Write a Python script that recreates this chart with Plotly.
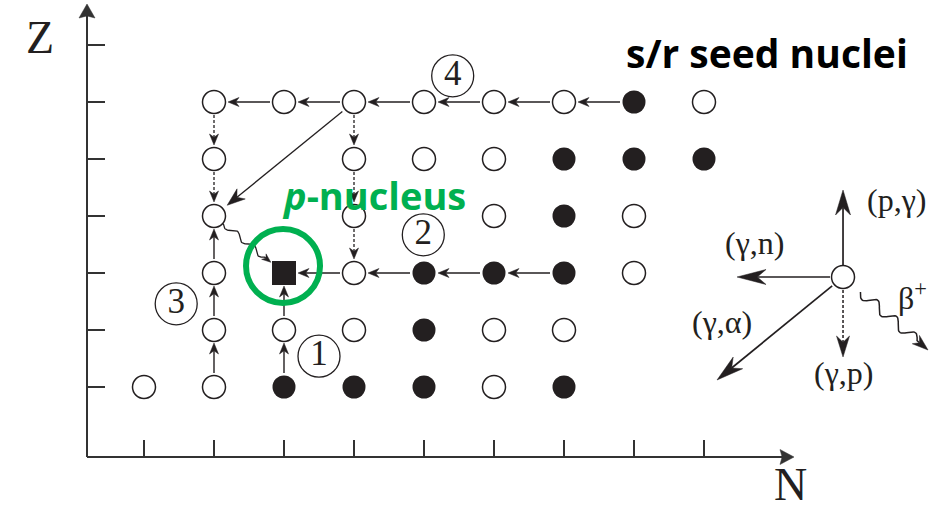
import numpy as np
import plotly.graph_objects as go

# ---------------- data (grid units: N = neutron number index, Z = proton number index)
N_TICKS = [1, 2, 3, 4, 5, 6, 7, 8, 9]
Z_TICKS = [1, 2, 3, 4, 5, 6, 7]

STABLE_N = [8, 7, 8, 9, 7, 5, 6, 7, 5, 3, 4, 5, 7]
STABLE_Z = [6, 5, 5, 5, 4, 3, 3, 3, 2, 1, 1, 1, 1]

UNSTABLE_N = [2, 3, 4, 5, 6, 7, 9, 2, 4, 5, 6, 2, 4, 6, 8, 2, 4, 8, 2, 3, 4, 6, 7, 1, 2, 6]
UNSTABLE_Z = [6, 6, 6, 6, 6, 6, 6, 5, 5, 5, 5, 4, 4, 4, 4, 3, 3, 3, 2, 2, 2, 2, 2, 1, 1, 1]

P_NUCLEUS_N = [3]
P_NUCLEUS_Z = [3]

# reaction start nuclei (the arrow goes to start + reaction shift)
GAMMA_N_START_N = [8, 7, 6, 5, 4, 3, 7, 6, 5, 4]
GAMMA_N_START_Z = [6, 6, 6, 6, 6, 6, 3, 3, 3, 3]
P_GAMMA_START_N = [2, 2, 2, 3, 3]
P_GAMMA_START_Z = [1, 2, 3, 1, 2]
GAMMA_P_START_N = [2, 2, 4, 4, 4]
GAMMA_P_START_Z = [6, 5, 6, 5, 4]
GAMMA_ALPHA_START_N = [4]
GAMMA_ALPHA_START_Z = [6]
BETA_START_N = [2]
BETA_START_Z = [4]

SHIFT = {"gn": (-1, 0), "pg": (0, 1), "gp": (0, -1), "ga": (-2, -2), "beta": (1, -1)}

PATH_LABELS = ["1", "2", "3", "4"]
PATH_N = [3.50, 4.99, 1.46, 5.41]
PATH_Z = [1.54, 3.67, 2.46, 6.46]

LEGEND_N, LEGEND_Z = 10.986, 2.93
LEGEND_TEXT = ["(p,γ)", "(γ,n)", "(γ,α)", "(γ,p)", "β<sup>+</sup>"]
LEGEND_TEXT_DN = [0.77, -1.27, -1.73, 0.0, 0.99]
LEGEND_TEXT_DZ = [1.35, 0.60, -0.79, -1.68, -0.33]

# ---------------- figure geometry
W, H = 949, 512
X0, X1 = 1 - 144 / 70, 1 - 144 / 70 + W / 70
Y1 = 1 + 387 / 57
Y0 = Y1 - H / 57
SX, SY = W / (X1 - X0), H / (Y1 - Y0)

INK = "#231f20"
AXC = "#333333"
GREEN = "#00b050"


def to_px(n, z):
    return np.array([(n - X0) * SX, (Y1 - z) * SY])


def to_data(p):
    return X0 + p[0] / SX, Y1 - p[1] / SY


fig = go.Figure()


def add_line(pts_px, width, color, dash="solid"):
    xs, ys = zip(*[to_data(p) for p in pts_px])
    fig.add_trace(go.Scatter(x=xs, y=ys, mode="lines", line=dict(color=color, width=width, dash=dash),
                             hoverinfo="skip", showlegend=False))


def add_head(tip, u, L, Wd, color, notch=0.7):
    nrm = np.array([-u[1], u[0]])
    pts = [tip, tip - u * L + nrm * Wd / 2, tip - u * L * notch, tip - u * L - nrm * Wd / 2, tip]
    xs, ys = zip(*[to_data(p) for p in pts])
    fig.add_trace(go.Scatter(x=xs, y=ys, mode="lines", fill="toself", fillcolor=color,
                             line=dict(color=color, width=0.5), hoverinfo="skip", showlegend=False))


def arrow(p0, p1, off0, off1, L, Wd, width=1.3, color=INK, dash="solid", notch=0.7):
    d = p1 - p0
    u = d / np.linalg.norm(d)
    s = p0 + u * off0
    t = p1 - u * off1
    add_line([s, t - u * L * notch], width, color, dash)
    add_head(t, u, L, Wd, color, notch)


def wiggle(p0, p1, off0, off1, periods, amp, L, Wd, width=1.3, color=INK):
    d = p1 - p0
    u = d / np.linalg.norm(d)
    nrm = np.array([-u[1], u[0]])
    s = p0 + u * off0
    t = p1 - u * off1
    length = np.linalg.norm(t - s)
    wl = length - L * 0.9
    k = np.linspace(0, 1, 80)
    pts = [s + u * wl * kk + nrm * amp * np.sin(2 * np.pi * periods * kk) for kk in k]
    pts.append(t - u * L * 0.7)
    add_line(pts, width, color)
    add_head(t, u, L, Wd, color)


# ---------------- axes (drawn through the data scale)
org = to_px(X0 + 87 / SX, Y1 - 457 / SY)
xtip = to_px(X0 + 794 / SX, Y1 - 457 / SY)
ytip = to_px(X0 + 87 / SX, Y1 - 4 / SY)
arrow(org, xtip, 0, 0, 14, 15, width=2, color=AXC, notch=0.85)
arrow(org, ytip, 0, 0, 14, 16, width=2, color=AXC, notch=0.85)
for n in N_TICKS:
    p = to_px(n, 0)
    add_line([np.array([p[0], org[1]]), np.array([p[0], org[1] - 17])], 2, AXC)
for z in Z_TICKS:
    p = to_px(0, z)
    add_line([np.array([org[0], p[1]]), np.array([org[0] + 18, p[1]])], 2, AXC)

# ---------------- reaction arrows in the chart
for n, z in zip(GAMMA_N_START_N, GAMMA_N_START_Z):
    dn, dz = SHIFT["gn"]
    arrow(to_px(n, z), to_px(n + dn, z + dz), 14, 14, 11, 9, width=1.4)
for n, z in zip(P_GAMMA_START_N, P_GAMMA_START_Z):
    dn, dz = SHIFT["pg"]
    arrow(to_px(n, z), to_px(n + dn, z + dz), 14, 13, 11, 9, width=1.4)
for n, z in zip(GAMMA_P_START_N, GAMMA_P_START_Z):
    dn, dz = SHIFT["gp"]
    arrow(to_px(n, z), to_px(n + dn, z + dz), 13, 14, 11, 9, dash="3px,2px")
for n, z in zip(GAMMA_ALPHA_START_N, GAMMA_ALPHA_START_Z):
    dn, dz = SHIFT["ga"]
    arrow(to_px(n, z), to_px(n + dn, z + dz), 15, 17, 18, 13)
for n, z in zip(BETA_START_N, BETA_START_Z):
    dn, dz = SHIFT["beta"]
    wiggle(to_px(n, z), to_px(n + dn, z + dz), 12, 17, 2.5, 3, 9, 7)

# ---------------- legend star
c = to_px(LEGEND_N, LEGEND_Z)
arrow(c, to_px(LEGEND_N, LEGEND_Z + 1.526), 12, 0, 25, 15, width=1.7)
arrow(c, to_px(LEGEND_N - 1.514, LEGEND_Z), 13, 0, 29, 15, width=1.7)
arrow(c, to_px(LEGEND_N - 1.8, LEGEND_Z - 1.807), 14, 0, 27, 15, width=1.7)
arrow(c, to_px(LEGEND_N, LEGEND_Z - 1.404), 13, 0, 21, 13, width=1.5, dash="3px,2px")
wiggle(c, to_px(LEGEND_N + 1.214, LEGEND_Z - 1.281), 23, 0, 3, 5, 16, 11, width=1.5)

# ---------------- nuclei
fig.add_trace(go.Scatter(x=UNSTABLE_N + [LEGEND_N], y=UNSTABLE_Z + [LEGEND_Z], mode="markers",
                         marker=dict(symbol="circle", size=23, color="white", line=dict(color=INK, width=1.5)),
                         hoverinfo="skip", showlegend=False))
fig.add_trace(go.Scatter(x=STABLE_N, y=STABLE_Z, mode="markers",
                         marker=dict(symbol="circle", size=23, color=INK, line=dict(width=0)),
                         hoverinfo="skip", showlegend=False))
fig.add_trace(go.Scatter(x=P_NUCLEUS_N, y=P_NUCLEUS_Z, mode="markers",
                         marker=dict(symbol="square", size=24, color=INK, line=dict(width=0)),
                         hoverinfo="skip", showlegend=False))

# circled path numbers
fig.add_trace(go.Scatter(x=PATH_N, y=PATH_Z, mode="markers+text", text=PATH_LABELS,
                         textposition="middle center",
                         textfont=dict(family="Liberation Serif", size=35, color=INK),
                         marker=dict(symbol="circle-open", size=42, color=INK, line=dict(color=INK, width=1.3)),
                         hoverinfo="skip", showlegend=False))

# green ring around the p-nucleus
fig.add_trace(go.Scatter(x=[P_NUCLEUS_N[0] - 0.014], y=[P_NUCLEUS_Z[0] + 0.123], mode="markers",
                         marker=dict(symbol="circle-open", size=74, color=GREEN, line=dict(color=GREEN, width=6)),
                         hoverinfo="skip", showlegend=False))

# ---------------- text
ann = []
for t, dn, dz in zip(LEGEND_TEXT, LEGEND_TEXT_DN, LEGEND_TEXT_DZ):
    ann.append(dict(x=LEGEND_N + dn, y=LEGEND_Z + dz, text=t, showarrow=False,
                    font=dict(family="Liberation Serif", size=32, color=INK),
                    xanchor="center", yanchor="middle"))
ann.append(dict(x=X0 + 40 / SX, y=Y1 - 37 / SY, text="Z", showarrow=False,
                font=dict(family="Liberation Serif", size=46, color=INK), xanchor="center", yanchor="middle"))
ann.append(dict(x=X0 + 790 / SX, y=Y1 - 484 / SY, text="N", showarrow=False,
                font=dict(family="Liberation Serif", size=46, color=INK), xanchor="center", yanchor="middle",
                height=44, valign="middle"))
ann.append(dict(x=X0 + 374 / SX, y=Y1 - 195 / SY, text="<b><i>p</i>-nucleus</b>", showarrow=False,
                font=dict(family="Open Sans", size=38, color=GREEN), xanchor="center", yanchor="middle"))
ann.append(dict(x=X0 + 767 / SX, y=Y1 - 52 / SY, text="<b>s/r seed nuclei</b>", showarrow=False,
                font=dict(family="Open Sans", size=39, color="#000000"), xanchor="center", yanchor="middle"))

fig.update_layout(
    width=W, height=H, margin=dict(l=0, r=0, t=0, b=0),
    paper_bgcolor="white", plot_bgcolor="white",
    xaxis=dict(range=[X0, X1], visible=False, fixedrange=True),
    yaxis=dict(range=[Y0, Y1], visible=False, fixedrange=True),
    annotations=ann, showlegend=False,
)
fig.write_html("out.html")
